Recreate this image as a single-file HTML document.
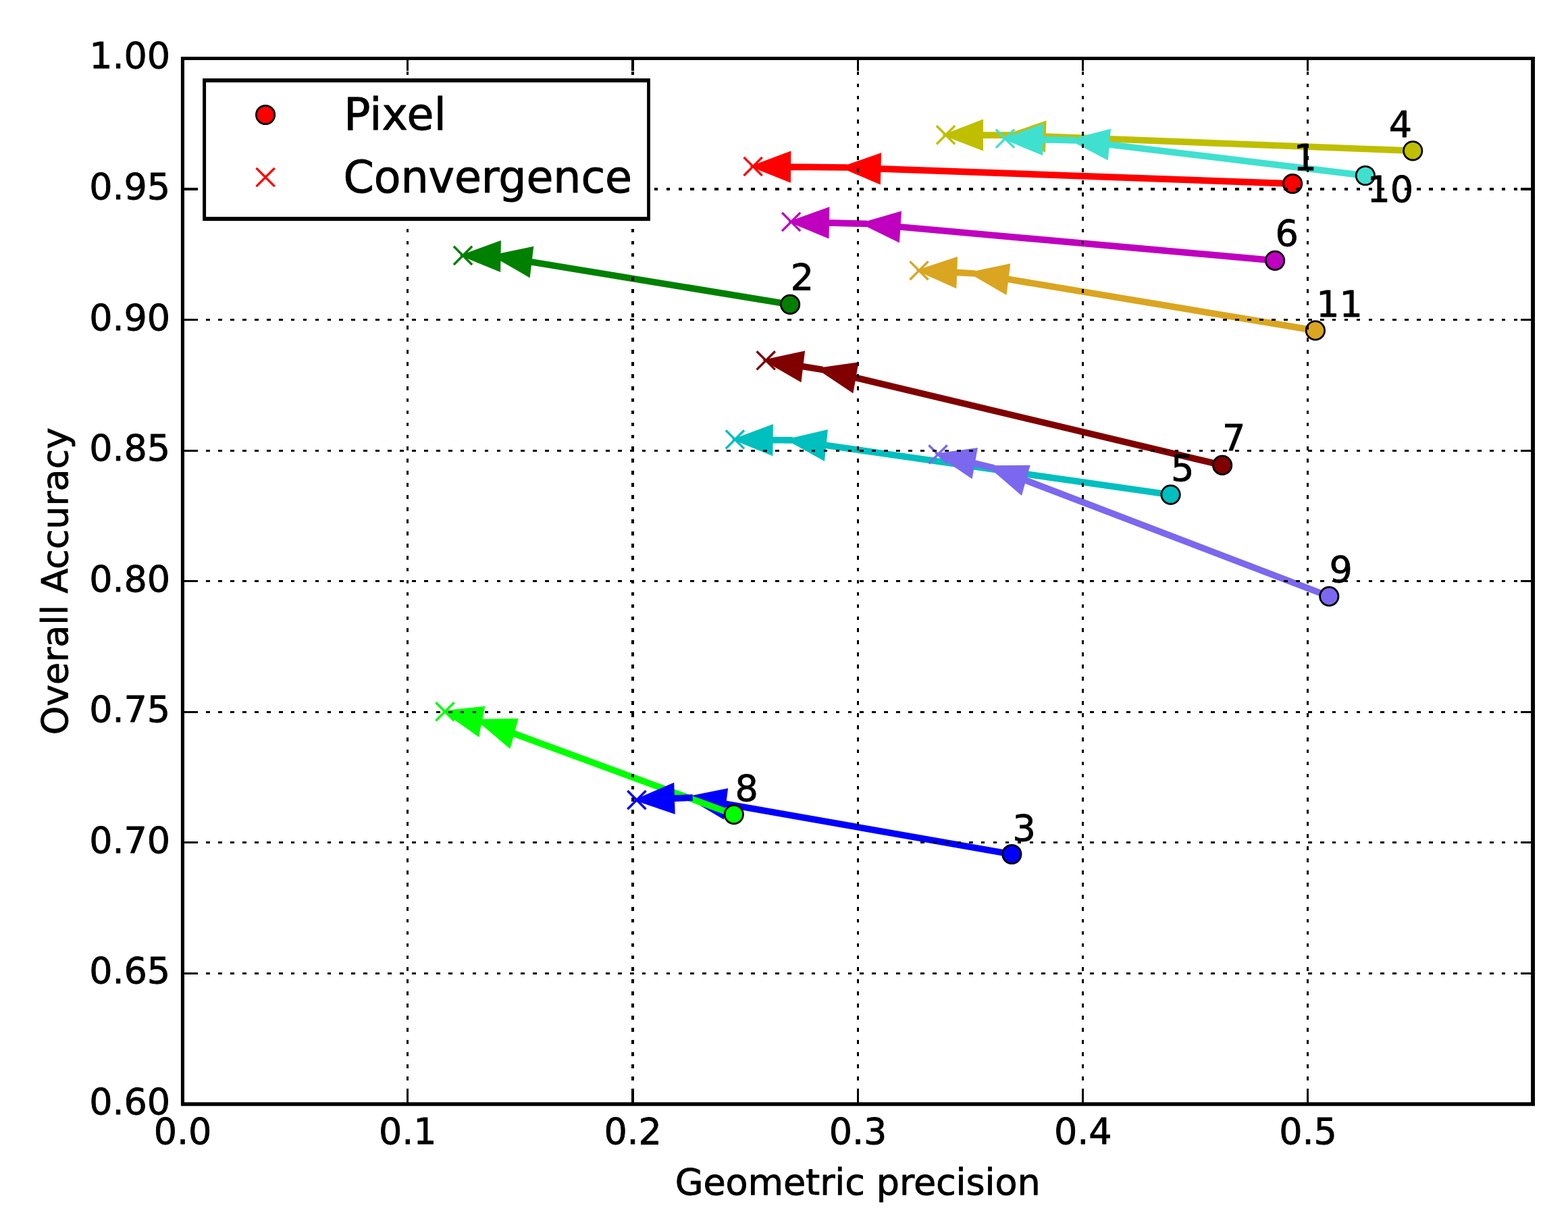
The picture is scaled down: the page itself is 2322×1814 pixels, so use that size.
<!DOCTYPE html>
<html><head><meta charset="utf-8"><title>Overall Accuracy vs Geometric precision</title>
<style>html,body{margin:0;padding:0;background:#fff;}body{width:2322px;height:1814px;overflow:hidden;}svg{display:block;}text{font-family:"DejaVu Sans","Liberation Sans",sans-serif;fill:#000;}text{stroke:#000;stroke-linejoin:round;}.t{font-size:54px;stroke-width:0.85px;letter-spacing:-0.1px;}.d{letter-spacing:-0.15px;}.l{font-size:65px;stroke-width:0.95px;letter-spacing:-0.1px;}</style></head><body>
<svg width="2322" height="1814" viewBox="0 0 2322 1814">
<rect x="0" y="0" width="2322" height="1814" fill="#ffffff"/>
<defs><clipPath id="ax"><rect x="270.50" y="86.70" width="1999.80" height="1548.30"/></clipPath></defs>
<g clip-path="url(#ax)">
<g stroke-width="5.80" stroke-linejoin="miter" stroke-miterlimit="10">
<polygon points="1251.55,247.99 1302.05,230.46 1301.58,247.87 1914.15,270.07 1914.05,273.93 1301.47,251.73 1301.01,269.14 1251.55,247.99" fill="#ff0000" stroke="#ff0000"/>
<polygon points="735.12,379.40 786.95,368.36 784.85,385.61 1170.33,448.88 1169.87,452.72 784.39,389.44 782.29,406.69 735.12,379.40" fill="#008000" stroke="#008000"/>
<polygon points="1022.82,1181.24 1074.75,1170.82 1072.50,1188.04 1498.60,1263.09 1498.10,1266.91 1072.00,1191.86 1069.75,1209.09 1022.82,1181.24" fill="#0000ff" stroke="#0000ff"/>
<polygon points="1495.96,200.04 1546.49,182.65 1545.98,200.06 2092.26,221.37 2092.14,225.23 1545.87,203.93 1545.37,221.33 1495.96,200.04" fill="#bfbf00" stroke="#bfbf00"/>
<polygon points="1170.95,651.91 1222.61,639.82 1220.78,657.10 1733.80,730.63 1733.40,734.47 1220.37,660.94 1218.53,678.23 1170.95,651.91" fill="#00bfbf" stroke="#00bfbf"/>
<polygon points="1280.73,331.28 1331.86,316.46 1330.71,333.83 1888.23,383.87 1887.97,387.73 1330.45,337.69 1329.29,355.05 1280.73,331.28" fill="#bf00bf" stroke="#bf00bf"/>
<polygon points="1215.66,547.05 1267.99,539.78 1264.97,556.84 1810.44,687.00 1809.76,690.80 1264.30,560.63 1261.28,577.69 1215.66,547.05" fill="#800000" stroke="#800000"/>
<polygon points="711.17,1067.88 763.86,1066.96 759.33,1083.57 1087.30,1204.21 1086.30,1207.91 758.32,1087.26 753.79,1103.86 711.17,1067.88" fill="#00ff00" stroke="#00ff00"/>
<polygon points="1469.10,692.25 1521.80,692.02 1517.11,708.57 1968.82,881.26 1967.78,884.94 1516.07,712.25 1511.38,728.79 1469.10,692.25" fill="#7b68ee" stroke="#7b68ee"/>
<polygon points="1590.30,207.76 1641.76,194.53 1640.20,211.85 2022.07,258.08 2021.73,261.92 1639.86,215.70 1638.30,233.03 1590.30,207.76" fill="#40e0d0" stroke="#40e0d0"/>
<polygon points="1441.04,404.81 1492.90,393.91 1490.76,411.15 1948.14,487.48 1947.66,491.32 1490.29,414.99 1488.16,432.23 1441.04,404.81" fill="#daa520" stroke="#daa520"/>
<polygon points="1118.23,246.55 1168.37,227.74 1168.24,245.16 1251.57,246.05 1251.54,249.92 1168.21,249.03 1168.07,266.44 1118.23,246.55" fill="#ff0000" stroke="#ff0000"/>
<polygon points="688.63,378.46 738.91,360.12 738.65,377.54 735.15,377.47 735.09,381.34 738.59,381.41 738.33,398.82 688.63,378.46" fill="#008000" stroke="#008000"/>
<polygon points="946.11,1184.48 995.46,1163.03 996.01,1180.44 1022.76,1179.31 1022.88,1183.18 996.13,1184.31 996.67,1201.71 946.11,1184.48" fill="#0000ff" stroke="#0000ff"/>
<polygon points="1403.12,199.90 1453.14,180.63 1453.12,198.04 1495.96,198.11 1495.96,201.98 1453.11,201.91 1453.09,219.33 1403.12,199.90" fill="#bfbf00" stroke="#bfbf00"/>
<polygon points="1091.73,650.86 1141.91,632.17 1141.74,649.59 1170.97,649.98 1170.93,653.85 1141.70,653.46 1141.53,670.88 1091.73,650.86" fill="#00bfbf" stroke="#00bfbf"/>
<polygon points="1175.09,328.59 1225.44,310.51 1225.11,327.93 1280.77,329.35 1280.69,333.22 1225.03,331.80 1224.70,349.21 1175.09,328.59" fill="#bf00bf" stroke="#bf00bf"/>
<polygon points="1136.92,534.25 1188.74,523.13 1186.66,540.38 1215.89,545.13 1215.43,548.97 1186.20,544.21 1184.12,561.46 1136.92,534.25" fill="#800000" stroke="#800000"/>
<polygon points="662.14,1054.67 714.60,1048.94 711.22,1065.90 711.54,1065.99 710.79,1069.76 710.46,1069.68 707.07,1086.64 662.14,1054.67" fill="#00ff00" stroke="#00ff00"/>
<polygon points="1391.99,673.57 1444.33,666.48 1441.27,683.53 1469.44,690.36 1468.76,694.15 1440.59,687.32 1437.52,704.37 1391.99,673.57" fill="#7b68ee" stroke="#7b68ee"/>
<polygon points="1491.69,205.39 1542.02,187.24 1541.71,204.66 1590.34,205.82 1590.27,209.69 1541.64,208.53 1541.33,225.94 1491.69,205.39" fill="#40e0d0" stroke="#40e0d0"/>
<polygon points="1364.38,400.86 1415.07,384.10 1414.40,401.50 1441.11,402.88 1440.97,406.75 1414.25,405.37 1413.59,422.77 1364.38,400.86" fill="#daa520" stroke="#daa520"/>
</g>
<g stroke="#000" stroke-width="2.78">
<circle cx="1914.10" cy="272.00" r="13.70" fill="#ff0000"/>
<circle cx="1170.10" cy="450.80" r="13.70" fill="#008000"/>
<circle cx="1498.35" cy="1265.00" r="13.70" fill="#0000ff"/>
<circle cx="2092.20" cy="223.30" r="13.70" fill="#bfbf00"/>
<circle cx="1733.60" cy="732.55" r="13.70" fill="#00bfbf"/>
<circle cx="1888.10" cy="385.80" r="13.70" fill="#bf00bf"/>
<circle cx="1810.10" cy="688.90" r="13.70" fill="#800000"/>
<circle cx="1086.80" cy="1206.06" r="13.70" fill="#00ff00"/>
<circle cx="1968.30" cy="883.10" r="13.70" fill="#7b68ee"/>
<circle cx="2021.90" cy="260.00" r="13.70" fill="#40e0d0"/>
<circle cx="1947.90" cy="489.40" r="13.70" fill="#daa520"/>
</g>
<g stroke-width="3.40" fill="none">
<path d="M1101.47 232.90L1128.67 260.10M1101.47 260.10L1128.67 232.90" stroke="#ff0000"/>
<path d="M671.90 364.80L699.10 392.00M671.90 392.00L699.10 364.80" stroke="#008000"/>
<path d="M929.30 1171.00L956.50 1198.20M929.30 1198.20L956.50 1171.00" stroke="#0000ff"/>
<path d="M1386.90 186.30L1414.10 213.50M1386.90 213.50L1414.10 186.30" stroke="#bfbf00"/>
<path d="M1074.80 637.20L1102.00 664.40M1074.80 664.40L1102.00 637.20" stroke="#00bfbf"/>
<path d="M1158.00 314.90L1185.20 342.10M1158.00 342.10L1185.20 314.90" stroke="#bf00bf"/>
<path d="M1120.60 520.20L1147.80 547.40M1120.60 547.40L1147.80 520.20" stroke="#800000"/>
<path d="M645.30 1040.20L672.50 1067.40M645.30 1067.40L672.50 1040.20" stroke="#00ff00"/>
<path d="M1375.50 659.30L1402.70 686.50M1375.50 686.50L1402.70 659.30" stroke="#7b68ee"/>
<path d="M1474.90 191.70L1502.10 218.90M1474.90 218.90L1502.10 191.70" stroke="#40e0d0"/>
<path d="M1347.40 387.10L1374.60 414.30M1347.40 414.30L1374.60 387.10" stroke="#daa520"/>
</g>
<g stroke="#000" fill="none" shape-rendering="crispEdges">
<path stroke-width="3" stroke-dasharray="5.70 12.23" d="M603.50 1635.40V86.70"/>
<path stroke-width="4" stroke-dasharray="5.70 12.23" d="M937.00 1635.40V86.70"/>
<path stroke-width="3" stroke-dasharray="5.70 12.23" d="M1270.50 1635.40V86.70"/>
<path stroke-width="3" stroke-dasharray="5.70 12.23" d="M1603.50 1635.40V86.70"/>
<path stroke-width="3" stroke-dasharray="5.70 12.23" d="M1936.50 1635.40V86.70"/>
<path stroke-width="3" stroke-dasharray="5.70 12.23" d="M269.40 1441.50H2270.30"/>
<path stroke-width="3" stroke-dasharray="5.70 12.23" d="M269.40 1247.50H2270.30"/>
<path stroke-width="3" stroke-dasharray="5.70 12.23" d="M269.40 1054.50H2270.30"/>
<path stroke-width="3" stroke-dasharray="5.70 12.23" d="M269.40 860.50H2270.30"/>
<path stroke-width="3" stroke-dasharray="5.70 12.23" d="M269.40 667.50H2270.30"/>
<path stroke-width="3" stroke-dasharray="5.70 12.23" d="M269.40 473.50H2270.30"/>
<path stroke-width="4" stroke-dasharray="5.70 12.23" d="M269.40 280.00H2270.30"/>
</g>
</g>
<g stroke="#000" fill="none" shape-rendering="crispEdges">
<path stroke-width="3" d="M603.50 1635.00v-18.10M603.50 86.70v18.10"/>
<path stroke-width="4" d="M937.00 1635.00v-18.10M937.00 86.70v18.10"/>
<path stroke-width="3" d="M1270.50 1635.00v-18.10M1270.50 86.70v18.10"/>
<path stroke-width="3" d="M1603.50 1635.00v-18.10M1603.50 86.70v18.10"/>
<path stroke-width="3" d="M1936.50 1635.00v-18.10M1936.50 86.70v18.10"/>
<path stroke-width="3" d="M270.50 1441.50h18.10M2270.30 1441.50h-18.10"/>
<path stroke-width="3" d="M270.50 1247.50h18.10M2270.30 1247.50h-18.10"/>
<path stroke-width="3" d="M270.50 1054.50h18.10M2270.30 1054.50h-18.10"/>
<path stroke-width="3" d="M270.50 860.50h18.10M2270.30 860.50h-18.10"/>
<path stroke-width="3" d="M270.50 667.50h18.10M2270.30 667.50h-18.10"/>
<path stroke-width="3" d="M270.50 473.50h18.10M2270.30 473.50h-18.10"/>
<path stroke-width="4" d="M270.50 280.00h18.10M2270.30 280.00h-18.10"/>
</g>
<path fill="#000" fill-rule="evenodd" d="M267.9 84.1H2273.0V1637.7H267.9ZM273.0 89.1V1632.2H2267.1V89.1Z"/>
<text class="t d" x="270.50" y="1694.00" text-anchor="middle">0.0</text>
<text class="t d" x="603.80" y="1694.00" text-anchor="middle">0.1</text>
<text class="t d" x="937.10" y="1694.00" text-anchor="middle">0.2</text>
<text class="t d" x="1270.40" y="1694.00" text-anchor="middle">0.3</text>
<text class="t d" x="1603.70" y="1694.00" text-anchor="middle">0.4</text>
<text class="t d" x="1937.00" y="1694.00" text-anchor="middle">0.5</text>
<text class="t d" x="251.90" y="1649.90" text-anchor="end">0.60</text>
<text class="t d" x="251.90" y="1456.36" text-anchor="end">0.65</text>
<text class="t d" x="251.90" y="1262.83" text-anchor="end">0.70</text>
<text class="t d" x="251.90" y="1069.29" text-anchor="end">0.75</text>
<text class="t d" x="251.90" y="875.75" text-anchor="end">0.80</text>
<text class="t d" x="251.90" y="682.21" text-anchor="end">0.85</text>
<text class="t d" x="251.90" y="488.67" text-anchor="end">0.90</text>
<text class="t d" x="251.90" y="295.14" text-anchor="end">0.95</text>
<text class="t d" x="251.90" y="100.60" text-anchor="end">1.00</text>
<text class="t" x="1270.10" y="1769.20" text-anchor="middle">Geometric precision</text>
<text class="t" transform="translate(100.00 860.60) rotate(-90)" text-anchor="middle">Overall Accuracy</text>
<text class="t" x="1915.60" y="251.50">1</text>
<text class="t" x="1170.80" y="429.40">2</text>
<text class="t" x="1499.55" y="1245.20">3</text>
<text class="t" x="2091.10" y="202.90" text-anchor="end">4</text>
<text class="t" x="1734.10" y="712.35">5</text>
<text class="t" x="1888.50" y="363.60">6</text>
<text class="t" x="1810.00" y="666.80">7</text>
<text class="t" x="1088.50" y="1186.06">8</text>
<text class="t" x="1968.50" y="862.40">9</text>
<text class="t" x="2024.60" y="299.10">10</text>
<text class="t" x="1949.30" y="468.90">11</text>
<rect x="300.1" y="116.1" width="662.8" height="211.0" fill="#000"/>
<rect x="305.1" y="122.0" width="653.0" height="199.1" fill="#fff"/>
<circle cx="393.1" cy="170.0" r="13.70" fill="#ff0000" stroke="#000" stroke-width="2.78"/>
<path d="M379.50 248.90L406.70 276.10M379.50 276.10L406.70 248.90" stroke="#ff0000" stroke-width="3.40" fill="none"/>
<text class="l" x="509.2" y="192.1" style="letter-spacing:0.3px">Pixel</text>
<text class="l" x="508.5" y="285.0">Convergence</text>
</svg></body></html>
